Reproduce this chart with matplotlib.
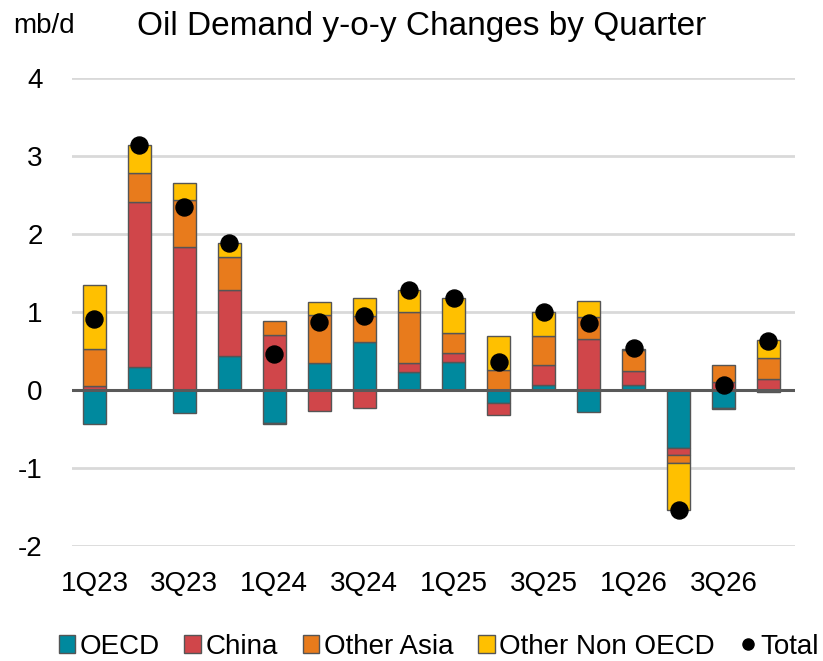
import numpy as np
import matplotlib.pyplot as plt
from matplotlib.lines import Line2D

plt.rcParams['font.family'] = ['Liberation Sans', 'DejaVu Sans']
plt.rcParams['axes.unicode_minus'] = False

quarters = ['1Q23', '2Q23', '3Q23', '4Q23', '1Q24', '2Q24', '3Q24', '4Q24',
            '1Q25', '2Q25', '3Q25', '4Q25', '1Q26', '2Q26', '3Q26', '4Q26']
oecd = [-0.43, 0.30, -0.30, 0.44, -0.42, 0.35, 0.62, 0.23,
        0.36, -0.17, 0.07, -0.28, 0.06, -0.75, -0.23, -0.02]
china = [0.05, 2.11, 1.83, 0.84, 0.70, -0.27, -0.23, 0.11,
         0.12, -0.155, 0.25, 0.65, 0.18, -0.08, 0.10, 0.14]
other_asia = [0.48, 0.37, 0.61, 0.42, 0.19, 0.61, 0.33, 0.66,
              0.25, 0.26, 0.37, 0.28, 0.27, -0.10, 0.22, 0.27]
other_non_oecd = [0.81, 0.36, 0.21, 0.19, -0.02, 0.17, 0.23, 0.28,
                  0.45, 0.43, 0.31, 0.215, 0.02, -0.61, -0.02, 0.23]
total = [0.91, 3.14, 2.35, 1.89, 0.46, 0.87, 0.95, 1.28,
         1.18, 0.36, 1.00, 0.86, 0.54, -1.54, 0.07, 0.63]

series = [('OECD', oecd, '#00899E'),
          ('China', china, '#D0464A'),
          ('Other Asia', other_asia, '#E87B1C'),
          ('Other Non OECD', other_non_oecd, '#FFC000')]

fig = plt.figure(figsize=(8.23, 6.61), dpi=100)
ax = fig.add_axes([0.0875, 0.174, 0.879, 0.708])

x = np.arange(len(quarters))
pos_base = np.zeros(len(quarters))
neg_base = np.zeros(len(quarters))
handles = []
for name, vals, col in series:
    v = np.array(vals)
    bottom = np.where(v >= 0, pos_base, neg_base)
    b = ax.bar(x, v, 0.51, bottom=bottom, color=col, edgecolor='#555555',
               linewidth=1.0, label=name, zorder=3)
    handles.append(b)
    pos_base += np.where(v >= 0, v, 0)
    neg_base += np.where(v < 0, v, 0)

ax.scatter(x, total, s=150, color='black', zorder=5)
handles.append(Line2D([], [], marker='o', ls='none', color='black', markersize=8))

ax.axhline(0, color='#595959', lw=2.2, zorder=4)
ax.set_ylim(-2, 4)
ax.set_xlim(-0.5, 15.6)
ax.set_yticks(range(-2, 5))
ax.yaxis.grid(True, color='#d9d9d9', lw=2)
ax.set_axisbelow(True)
ax.set_xticks(x[::2])
ax.set_xticklabels(quarters[::2])
ax.tick_params(length=0, labelsize=20, pad=21)
ax.tick_params(axis='x', pad=18)
for s in ax.spines.values():
    s.set_visible(False)

fig.text(0.016, 0.960, 'mb/d', fontsize=20, va='center')
fig.text(0.166, 0.960, 'Oil Demand y-o-y Changes by Quarter', fontsize=24, va='center')

labels = [s[0] for s in series] + ['Total']
fig.legend(handles, labels, loc='lower center', bbox_to_anchor=(0.533, -0.036),
           ncol=5, frameon=False, handlelength=0.6,
           handleheight=0.6, handletextpad=0.15, columnspacing=0.9,
           prop={'family': ['Liberation Sans'], 'size': 20})

fig.savefig('out.png', dpi=100)
